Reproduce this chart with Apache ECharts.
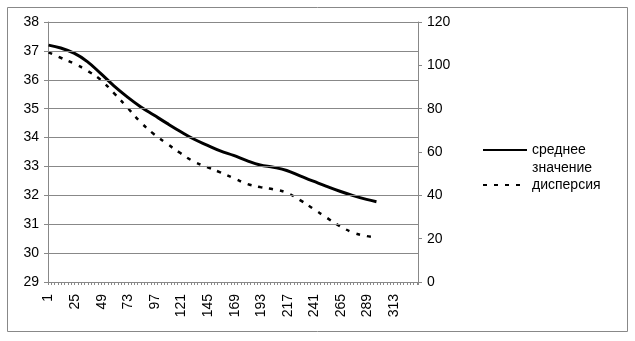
<!DOCTYPE html>
<html>
<head>
<meta charset="utf-8">
<script src="https://cdn.jsdelivr.net/npm/echarts@6/dist/echarts.min.js"></script>
<style>
  html, body { margin: 0; padding: 0; background: #fff; }
  #chart { width: 635px; height: 341px; }
</style>
</head>
<body>
<div id="chart"></div>
<script>
// категории оси X: 1..334
var catCount = 334;
var categories = [];
for (var i = 1; i <= catCount; i++) categories.push(String(i));

// значения делений левой оси (по ним же линии сетки)
var leftTicks = [29, 30, 31, 32, 33, 34, 35, 36, 37, 38];

// точки (номер категории)
var meanIdx = [1, 12, 24, 36, 48, 60, 72, 84, 96, 108, 120, 132, 144, 156, 168, 180, 192, 204, 216, 228, 240, 252, 264, 276, 288, 297];
var meanVals = [37.20, 37.10, 36.92, 36.63, 36.22, 35.79, 35.41, 35.07, 34.78, 34.49, 34.21, 33.95, 33.74, 33.54, 33.38, 33.20, 33.05, 32.97, 32.86, 32.67, 32.49, 32.31, 32.14, 31.99, 31.86, 31.78];

var dispIdx = [1, 12, 24, 36, 48, 60, 72, 84, 96, 108, 120, 132, 144, 156, 168, 180, 192, 204, 216, 228, 240, 252, 264, 276, 288, 297];
var dispVals = [106.0, 103.5, 100.8, 97.5, 93.3, 87.2, 80.6, 73.8, 68.3, 63.8, 59.5, 55.6, 53.1, 50.6, 48.0, 45.3, 43.8, 42.8, 41.2, 37.8, 33.8, 29.7, 25.8, 22.8, 21.2, 20.6];

var seriesNames = ['среднее значение', 'дисперсия'];

function pairs(idx, vals){
    return idx.map(function(c, k){ return [c - 1, vals[k]]; });
}

var chart = echarts.init(document.getElementById('chart'));
var gray = '#888';
var font = 'Liberation Sans, Arial, sans-serif';

chart.setOption({
    animation: false,
    backgroundColor: '#fff',
    textStyle: { fontFamily: font },
    graphic: [{
        type: 'rect',
        shape: { x: 7.5, y: 7.5, width: 620, height: 324 },
        style: { fill: 'none', stroke: gray, lineWidth: 1 },
        silent: true
    }],
    grid: { left: 48, right: 217, top: 22, bottom: 59 },
    legend: {
        orient: 'vertical',
        left: 482,
        top: 123,
        padding: 0,
        itemWidth: 44,
        itemHeight: 4,
        itemGap: -1,
        data: seriesNames,
        itemStyle: { opacity: 0 },
        // пустая строка сверху, чтобы значок стоял напротив первой строки
        formatter: function(name){
            return name.indexOf(' ') > 0 ? '\u00a0\n' + name.replace(' ', '\n') : name;
        },
        textStyle: { fontSize: 14, color: '#000', fontFamily: font, lineHeight: 18 }
    },
    xAxis: {
        type: 'category',
        data: categories,
        boundaryGap: true,
        axisLine: { lineStyle: { color: gray, width: 1 } },
        axisTick: { show: true, interval: 2, length: 3, lineStyle: { color: gray } },
        axisLabel: { interval: 23, rotate: 90, fontSize: 14, color: '#000', margin: 12, fontFamily: font },
        splitLine: { show: false }
    },
    yAxis: [{
        type: 'value',
        min: 29, max: 38, interval: 1,
        axisLine: { show: true, lineStyle: { color: gray } },
        axisTick: { show: true, length: 4, lineStyle: { color: gray } },
        axisLabel: { fontSize: 14, color: '#000', margin: 9, fontFamily: font },
        splitLine: { show: false }
    }, {
        type: 'value',
        min: 0, max: 120, interval: 20,
        position: 'right',
        axisLine: { show: true, lineStyle: { color: gray } },
        axisTick: { show: true, length: 4, lineStyle: { color: gray } },
        axisLabel: { fontSize: 14, color: '#000', margin: 9, fontFamily: font },
        splitLine: { show: false }
    }],
    series: [{
        name: seriesNames[0],
        type: 'line',
        yAxisIndex: 0,
        smooth: 0.4,
        showSymbol: false,
        symbol: 'none',
        itemStyle: { color: '#000' },
        lineStyle: { color: '#000', width: 3 },
        data: pairs(meanIdx, meanVals),
        // горизонтальная сетка по делениям левой оси
        markLine: {
            silent: true,
            symbol: 'none',
            label: { show: false },
            lineStyle: { color: gray, width: 1, type: 'solid' },
            emphasis: { disabled: true },
            data: leftTicks.map(function(v){ return { yAxis: v }; })
        }
    }, {
        name: seriesNames[1],
        type: 'line',
        yAxisIndex: 1,
        smooth: 0.4,
        showSymbol: false,
        symbol: 'none',
        itemStyle: { color: '#000' },
        lineStyle: { color: '#000', width: 2.5, type: [4, 7] },
        data: pairs(dispIdx, dispVals)
    }]
});
</script>
</body>
</html>
